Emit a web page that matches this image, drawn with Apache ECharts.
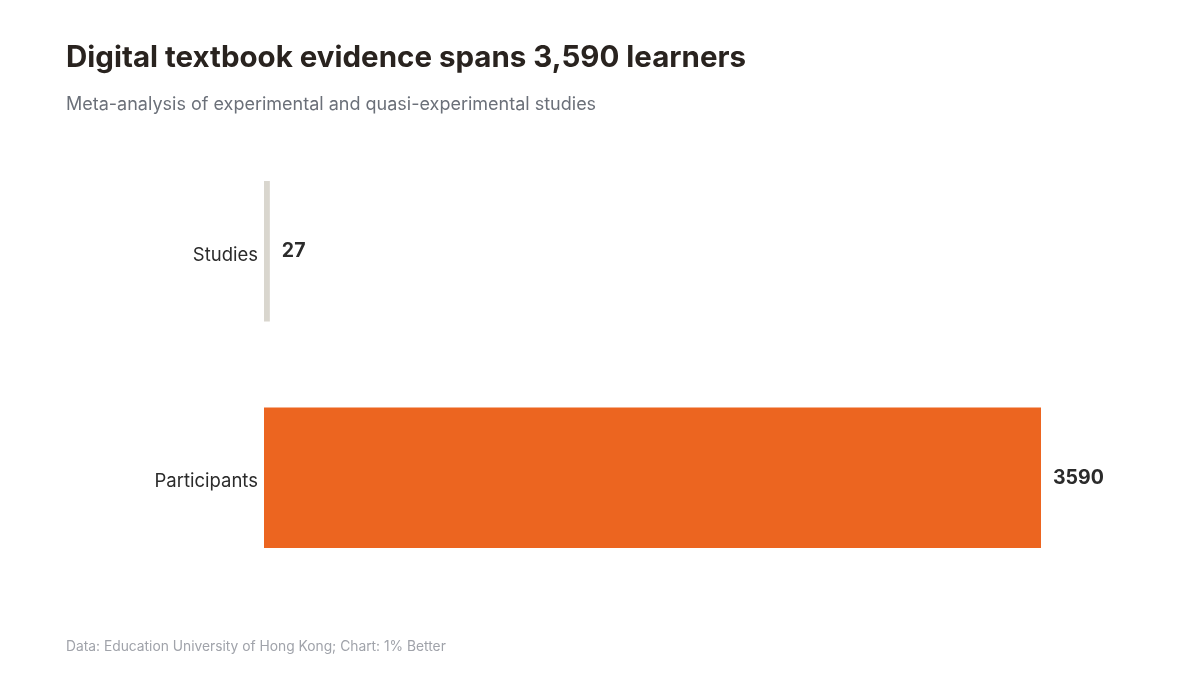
<!DOCTYPE html>
<html>
<head>
<meta charset="utf-8">
<title>Digital textbook evidence</title>
<script src="https://cdn.jsdelivr.net/npm/echarts@6/dist/echarts.min.js"></script>
<style>
  html, body { margin: 0; padding: 0; background: #ffffff; }
  #chart { width: 1200px; height: 675px; }
</style>
</head>
<body>
<div id="chart"></div>
<script>
const categories = ['Studies', 'Participants']
const values = [27, 3590]
const barColors = ['#d9d6ce', '#ec6520']

const myChart = echarts.init(document.getElementById('chart'))

const seriesData = values.map((value, index) => {
    return {
        value: value,
        itemStyle: { color: barColors[index] }
    }
})

const option = {
    backgroundColor: '#ffffff',
    textStyle: { fontFamily: 'Inter, "Noto Sans", sans-serif' },
    title: [
        {
            text: 'Digital textbook evidence spans 3,590 learners',
            left: 66,
            top: 43,
            padding: 0,
            textStyle: { fontSize: 29.5, fontWeight: 'bold', color: '#29231f', fontFamily: 'Inter, sans-serif' }
        },
        {
            text: 'Meta-analysis of experimental and quasi-experimental studies',
            left: 66,
            top: 96,
            padding: 0,
            textStyle: { fontSize: 18, fontWeight: 'normal', color: '#6b7079', fontFamily: 'Inter, sans-serif' }
        },
        {
            text: 'Data: Education University of Hong Kong; Chart: 1% Better',
            left: 66,
            top: 640,
            padding: 0,
            textStyle: { fontSize: 13.8, fontWeight: 'normal', color: '#a0a3aa', fontFamily: 'Inter, sans-serif' }
        }
    ],
    grid: {
        left: 264,
        right: 159,
        top: 138,
        bottom: 84,
        containLabel: false
    },
    xAxis: {
        type: 'value',
        min: 0,
        max: 3590,
        show: false
    },
    yAxis: {
        type: 'category',
        data: categories,
        inverse: true,
        axisLine: { show: false },
        axisTick: { show: false },
        axisLabel: {
            margin: 6,
            formatter: '{c|{value}}',
            rich: {
                c: {
                    fontSize: 18.5,
                    color: '#2b2b2b',
                    fontFamily: 'Inter, sans-serif',
                    padding: [8, 0, 0, 0]
                }
            }
        }
    },
    series: [
        {
            name: 'Count',
            type: 'bar',
            data: seriesData,
            barWidth: '62%',
            label: {
                show: true,
                position: 'right',
                distance: 12,
                fontSize: 19.5,
                fontWeight: 'bold',
                color: '#2b2b2b',
                fontFamily: 'Inter, sans-serif',
                padding: [3, 0, 0, 0]
            }
        }
    ]
}
myChart.setOption(option)
</script>
</body>
</html>
